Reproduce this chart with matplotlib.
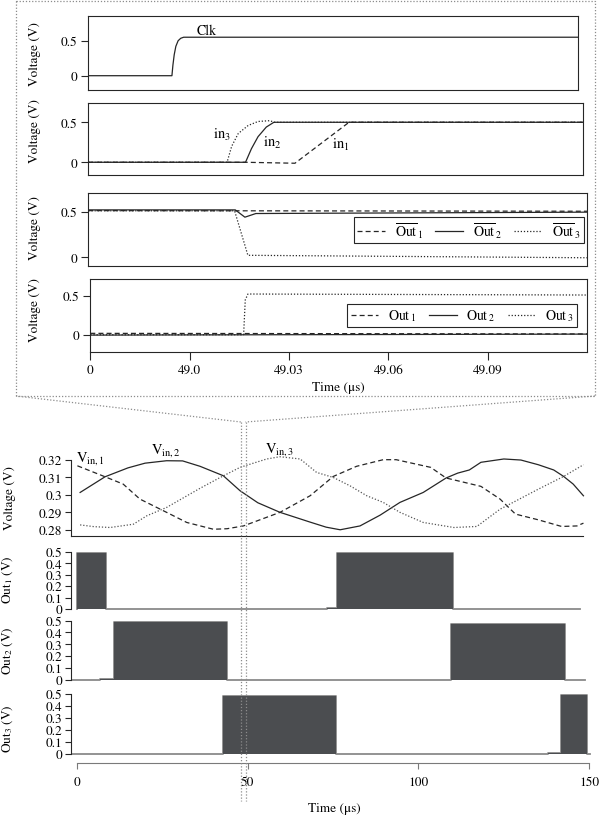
"""Clocked comparator zoom (top) and 150 us three-phase run (bottom)."""

import matplotlib

matplotlib.use("Agg")
import matplotlib.pyplot as plt
from matplotlib.lines import Line2D

plt.rcParams["font.family"] = ["STIXGeneral", "DejaVu Serif"]
plt.rcParams["mathtext.fontset"] = "stix"
plt.rcParams["axes.linewidth"] = 0.8

W, H = 600, 820
INK = "#262626"
FILL = "#4b4d50"
BASE = "#8a8a8a"
DOT = "#8c8c8c"

# ---- zoomed window (us) ----
clk_t = [48.97, 48.9956, 48.9959, 48.9963, 48.9968, 48.9975, 48.9983, 48.9992, 49.12]
clk_v = [0, 0, 0.15, 0.30, 0.42, 0.50, 0.535, 0.55, 0.55]

in1_t = [48.97, 49.0177, 49.0327, 49.0491, 49.12]
in1_v = [0, 0, -0.012, 0.5, 0.5]
in2_t = [48.97, 49.0177, 49.0195, 49.0215, 49.024, 49.0263, 49.12]
in2_v = [0, 0, 0.17, 0.32, 0.44, 0.5, 0.5]
in3_t = [48.97, 49.0121, 49.0135, 49.0155, 49.0185, 49.0215, 49.025, 49.0266, 49.12]
in3_v = [0, 0, 0.2, 0.36, 0.46, 0.51, 0.52, 0.5, 0.5]

outb1_t = [48.97, 49.12]
outb1_v = [0.512, 0.505]
outb2_t = [48.97, 49.0142, 49.0171, 49.0204, 49.12]
outb2_v = [0.52, 0.52, 0.44, 0.48, 0.495]
outb3_t = [48.97, 49.014, 49.018, 49.12]
outb3_v = [0.51, 0.51, 0.022, -0.005]

zout1_t = [48.97, 49.12]
zout1_v = [0.018, 0.01]
zout2_t = [48.97, 49.12]
zout2_v = [-0.005, 0.008]
zout3_t = [48.97, 49.0163, 49.0168, 49.0176, 49.12]
zout3_v = [0.0, 0.0, 0.45, 0.526, 0.513]

zoom_ticks = [48.97, 49.0, 49.03, 49.06, 49.09]
zoom_ticklabels = ["0", "49.0", "49.03", "49.06", "49.09"]

# ---- full run (us) ----
vin1_t = [0.2, 8.3, 13.6, 18.5, 26.3, 32.2, 40.0, 44.0, 48.8, 59.5, 68.3, 75.1, 81.9,
          89.7, 93.5, 103.6, 108.1, 118.3, 123.9, 128.4, 135.1, 141.9, 146.4, 148.3]
vin1_v = [0.3167, 0.3104, 0.3062, 0.2976, 0.2900, 0.2842, 0.2803, 0.2806, 0.2822, 0.2900,
          0.2995, 0.3106, 0.3164, 0.3202, 0.3202, 0.3158, 0.3097, 0.3049, 0.2976, 0.2890,
          0.2857, 0.2819, 0.2822, 0.2838]
vin2_t = [1.0, 8.3, 15.0, 20.0, 26.3, 31.0, 36.1, 42.9, 47.8, 53.0, 59.5, 68.3, 73.0, 77.1,
          82.9, 88.8, 94.6, 101.4, 108.1, 111.5, 114.9, 118.3, 125.0, 130.0, 135.1, 139.6,
          142.5, 145.3, 148.3]
vin2_v = [0.3014, 0.3104, 0.3155, 0.3182, 0.3196, 0.3195, 0.3164, 0.3110, 0.3024, 0.2955,
          0.2900, 0.2844, 0.2815, 0.2800, 0.2822, 0.2884, 0.2957, 0.3014, 0.3097, 0.3125,
          0.3143, 0.3187, 0.3206, 0.3200, 0.3173, 0.3143, 0.3106, 0.3062, 0.2995]
vin3_t = [1.0, 5.0, 9.8, 16.6, 20.5, 26.3, 36.1, 42.0, 47.8, 55.6, 59.5, 65.4, 70.2, 75.1,
          80.0, 84.9, 89.7, 94.6, 101.4, 110.4, 117.1, 123.9, 135.1, 142.5, 148.3]
vin3_v = [0.2828, 0.2818, 0.2813, 0.2832, 0.2880, 0.2928, 0.3038, 0.3100, 0.3158, 0.3206,
          0.3219, 0.3206, 0.3129, 0.3100, 0.3052, 0.2995, 0.2957, 0.2900, 0.2842, 0.2813,
          0.2819, 0.2918, 0.3033, 0.3106, 0.3173]

out1_t = [0.0, 0.0, 8.7, 8.7, 73.2, 73.2, 76.2, 76.2, 110.2, 110.2, 147.3]
out1_v = [0, 0.488, 0.488, 0, 0, 0.006, 0.006, 0.488, 0.488, 0, 0]
out2_t = [-1.7, 6.8, 6.8, 10.9, 10.9, 44.0, 44.0, 109.6, 109.6, 142.8, 142.8, 148.8]
out2_v = [0, 0, 0.01, 0.01, 0.486, 0.486, 0, 0, 0.472, 0.472, 0, 0]
out3_t = [-1.7, 42.8, 42.8, 75.8, 75.8, 138.0, 138.0, 141.6, 141.6, 149.4, 149.4, 150.2]
out3_v = [0, 0, 0.48, 0.48, 0, 0, 0.005, 0.005, 0.492, 0.492, 0, 0]


def px_rect(l, t, r, b):
    return [l / W, 1 - b / H, (r - l) / W, (b - t) / H]


def fig_line(fig, xs, ys, **kw):
    fig.add_artist(Line2D([x / W for x in xs], [1 - y / H for y in ys],
                          transform=fig.transFigure, **kw))


def zoom_axes(fig, box, ylim):
    ax = fig.add_axes(px_rect(*box))
    ax.set_xlim(48.97, 49.12)
    ax.set_ylim(*ylim)
    ax.set_yticks([0, 0.5], ["0", "0.5"])
    ax.set_xticks([])
    ax.tick_params(axis="y", direction="out", length=4.8, width=0.8, pad=3,
                   labelsize=9.5, color=INK)
    for s in ax.spines.values():
        s.set_color(INK)
    return ax


def full_axes(fig, box, ylim):
    ax = fig.add_axes(px_rect(*box))
    ax.set_xlim(-1.756, 150.51)
    ax.set_ylim(*ylim)
    ax.set_xticks([])
    for s in ("top", "right", "bottom"):
        ax.spines[s].set_visible(False)
    ax.spines["left"].set_color(INK)
    ax.tick_params(axis="y", direction="out", length=4, width=0.8, pad=2,
                   labelsize=9.5, color=INK)
    return ax


fig = plt.figure(figsize=(6, 8.2), dpi=100)

# ---- top: zoom panels ----
ax1 = zoom_axes(fig, (88.3, 17.3, 578.3, 90.7), (-0.2, 0.849))
ax1.plot(clk_t, clk_v, color=INK, lw=0.9)
ax1.text(49.0062, 0.653, "Clk", fontsize=10, ha="center", va="center")

ax2 = zoom_axes(fig, (88.3, 104, 582.7, 176), (-0.159, 0.741))
ax2.plot(in1_t, in1_v, color=INK, lw=0.9, ls=(0, (4, 2.5)))
ax2.plot(in3_t, in3_v, color=INK, lw=0.9, ls=(0, (1, 1.5)))
ax2.plot(in2_t, in2_v, color=INK, lw=0.9)
ax2.text(49.0106, 0.354, r"$\mathrm{in}_3$", fontsize=10.5, ha="center", va="center")
ax2.text(49.0257, 0.25, r"$\mathrm{in}_2$", fontsize=10.5, ha="center", va="center")
ax2.text(49.0466, 0.229, r"$\mathrm{in}_1$", fontsize=10.5, ha="center", va="center")

ax3 = zoom_axes(fig, (88.3, 194, 587, 266.7), (-0.092, 0.705))
ax3.plot(outb1_t, outb1_v, color=INK, lw=0.9, ls=(0, (4, 2.5)),
         label=r"$\overline{\mathrm{Out}}_{\,1}$")
ax3.plot(outb2_t, outb2_v, color=INK, lw=0.9, label=r"$\overline{\mathrm{Out}}_{\,2}$")
ax3.plot(outb3_t, outb3_v, color=INK, lw=0.9, ls=(0, (1, 1.5)),
         label=r"$\overline{\mathrm{Out}}_{\,3}$")

ax4 = zoom_axes(fig, (90.3, 280, 587, 353.3), (-0.227, 0.72))
ax4.plot(zout1_t, zout1_v, color=INK, lw=0.9, ls=(0, (4, 2.5)), label=r"$\mathrm{Out}_{\,1}$")
ax4.plot(zout2_t, zout2_v, color=INK, lw=0.9, label=r"$\mathrm{Out}_{\,2}$")
ax4.plot(zout3_t, zout3_v, color=INK, lw=0.9, ls=(0, (1, 1.5)), label=r"$\mathrm{Out}_{\,3}$")
ax4.set_xticks(zoom_ticks, zoom_ticklabels)
ax4.tick_params(axis="x", direction="out", length=5.8, width=0.8, pad=3,
                labelsize=9.5, color=INK)

for ax, anchor in ((ax3, (583.5, 218.3)), (ax4, (577, 305))):
    leg = ax.legend(loc="upper right", bbox_to_anchor=(anchor[0] / W, 1 - anchor[1] / H),
                    bbox_transform=fig.transFigure, ncol=3, fontsize=10, frameon=True,
                    fancybox=False, framealpha=1, edgecolor=INK, handlelength=2.0,
                    columnspacing=0.9, handletextpad=0.7, borderpad=0.25,
                    borderaxespad=0)
    leg.get_frame().set_linewidth(0.8)

for y in (54, 131, 228, 310):
    fig.text(35 / W, 1 - y / H, "Voltage (V)", rotation=90, fontsize=9.5,
             ha="center", va="center")
fig.text(338 / W, 1 - 388 / H, "Time (\u03bcs)", fontsize=9.5, ha="center", va="center")

# ---- dotted zoom frame ----
dot = dict(ls=(0, (1, 1.5)), color=DOT, lw=0.9)
fig_line(fig, [16, 595, 595, 16, 16], [1.5, 1.5, 397, 397, 1.5], **dot)
fig_line(fig, [16, 241], [397, 423], **dot)
fig_line(fig, [595, 245.5], [397, 423], **dot)
fig_line(fig, [241, 241], [423, 802], **dot)
fig_line(fig, [245.5, 245.5], [423, 802], **dot)

# ---- bottom: full run ----
axv = full_axes(fig, (70.7, 443.6, 591, 536.7), (0.2766, 0.33))
axv.spines["left"].set_bounds(0.2766, 0.32)
axv.spines["bottom"].set_visible(True)
axv.spines["bottom"].set_color(INK)
axv.spines["bottom"].set_bounds(-1.756, 148.2)
axv.set_yticks([0.28, 0.29, 0.30, 0.31, 0.32], ["0.28", "0.29", "0.3", "0.31", "0.32"])
axv.plot(vin1_t, vin1_v, color=INK, lw=0.9, ls=(0, (4, 2.5)))
axv.plot(vin2_t, vin2_v, color=INK, lw=0.9)
axv.plot(vin3_t, vin3_v, color="#555555", lw=0.9, ls=(0, (1, 1.5)))
axv.text(3.9, 0.3216, r"$\mathrm{V}_{\mathrm{in},1}$", fontsize=10.5, ha="center", va="center")
axv.text(26.0, 0.326, r"$\mathrm{V}_{\mathrm{in},2}$", fontsize=10.5, ha="center", va="center")
axv.text(59.5, 0.3267, r"$\mathrm{V}_{\mathrm{in},3}$", fontsize=10.5, ha="center", va="center")
fig.text(10 / W, 1 - 498 / H, "Voltage (V)", rotation=90, fontsize=9.5,
         ha="center", va="center")

out_ticks = [0, 0.1, 0.2, 0.3, 0.4, 0.5]
out_labels = ["0", "0.1", "0.2", "0.3", "0.4", "0.5"]
out_panels = [
    ((70.7, 550.4, 591, 611.7), (-0.015, 0.52), out1_t, out1_v, 580, 1),
    ((70.7, 619.3, 591, 682.1), (-0.012, 0.52), out2_t, out2_v, 651, 2),
    ((70.7, 692.6, 591, 756.4), (-0.012, 0.52), out3_t, out3_v, 729, 3),
]
for box, ylim, t, v, ylab, k in out_panels:
    ax = full_axes(fig, box, ylim)
    ax.spines["left"].set_bounds(0, 0.5)
    ax.set_yticks(out_ticks, out_labels)
    ax.plot(t, v, color=BASE, lw=1.3, zorder=1)
    ax.fill_between(t, v, 0, color=FILL, lw=0, zorder=2)
    fig.text(8 / W, 1 - ylab / H, rf"$\mathrm{{Out}}_{k}$ (V)", rotation=90,
             fontsize=9.5, ha="center", va="center")

axx = fig.add_axes(px_rect(70.7, 763, 591, 764))
axx.set_xlim(-1.756, 150.51)
axx.set_yticks([])
for s in ("top", "right", "left"):
    axx.spines[s].set_visible(False)
axx.spines["bottom"].set_color("#7a7a7a")
axx.spines["bottom"].set_bounds(0, 150)
axx.set_xticks([0, 50, 100, 150], ["0", "50", "100", "150"])
axx.tick_params(axis="x", direction="out", length=4.5, width=0.8, pad=5,
                labelsize=9.5, color="#7a7a7a")
axx.patch.set_visible(False)
fig.text(334 / W, 1 - 809 / H, "Time (\u03bcs)", fontsize=9.5, ha="center", va="center")

fig.savefig("out.png", dpi=100)
